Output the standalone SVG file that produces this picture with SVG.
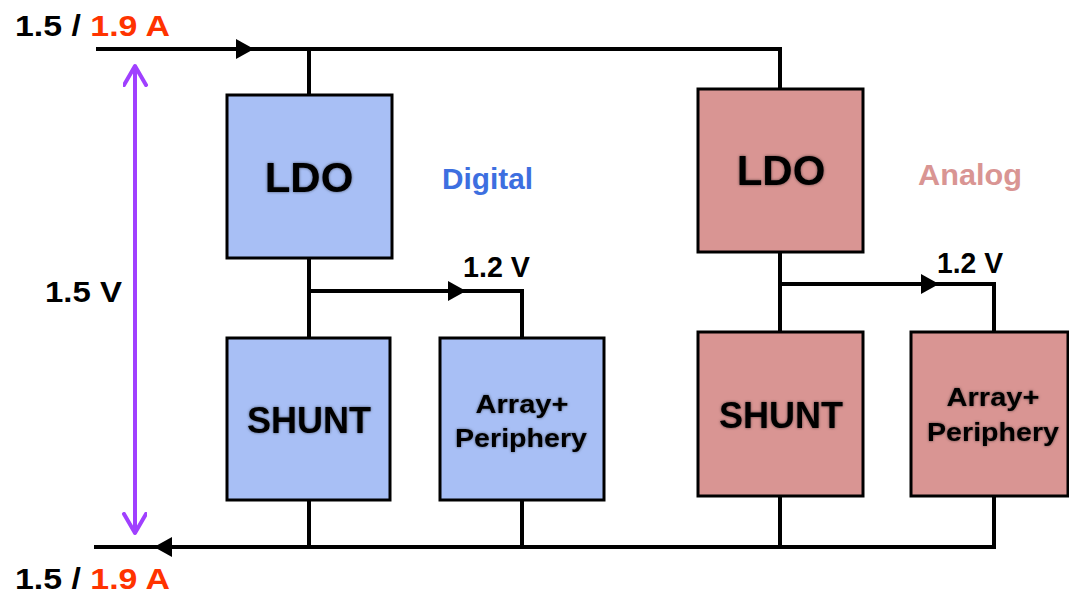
<svg xmlns="http://www.w3.org/2000/svg" width="1069" height="600" viewBox="0 0 1069 600">
<defs>
<style>
.wire{fill:none;stroke:#000;stroke-width:4}
.dig{fill:#a8bff5;stroke:#000;stroke-width:3}
.ana{fill:#d99593;stroke:#000;stroke-width:3}
.t{font-family:"Liberation Sans",Arial,sans-serif;font-weight:bold;text-anchor:middle;fill:#000}
.big{font-size:42px;filter:url(#glow)}
.med{font-size:36px;filter:url(#glow)}
.sm{font-size:26px;filter:url(#glow)}
.lbl{font-family:"Liberation Sans",Arial,sans-serif;font-weight:bold;font-size:30px}
.red{fill:#ff3300}
</style>
<filter id="glow" x="-20%" y="-40%" width="140%" height="180%">
<feDropShadow dx="0" dy="0" stdDeviation="1.5" flood-color="#000" flood-opacity="0.55"/>
</filter>
<marker id="tri" markerWidth="18" markerHeight="20" refX="17" refY="10" orient="auto" markerUnits="userSpaceOnUse">
<path d="M0,0 L18,10 L0,20 Z" fill="#000"/>
</marker>
<marker id="chev" markerWidth="30" markerHeight="30" refX="21" refY="12" orient="auto" markerUnits="userSpaceOnUse">
<path d="M2,1 L21,12 L2,23" fill="none" stroke="#a040ff" stroke-width="4" stroke-linecap="round" stroke-linejoin="round"/>
</marker>
</defs>
<rect width="1069" height="600" fill="#fff"/>

<g id="connectors">
<path class="wire" d="M96,49 L780,49 L780,89"/>
<path class="wire" d="M309,49 L309,95"/>
<path class="wire" d="M96,49 L253,49" marker-end="url(#tri)"/>
<path class="wire" d="M309,258 L309,338"/>
<path class="wire" d="M309,291 L522,291 L522,338"/>
<path class="wire" d="M309,291 L465,291" marker-end="url(#tri)"/>
<path class="wire" d="M780,252 L780,332"/>
<path class="wire" d="M780,284 L994,284 L994,332"/>
<path class="wire" d="M780,284 L938,284" marker-end="url(#tri)"/>
<path class="wire" d="M94,547 L994,547 L994,496"/>
<path class="wire" d="M309,500 L309,547"/>
<path class="wire" d="M522,500 L522,547"/>
<path class="wire" d="M780,496 L780,547"/>
<path class="wire" d="M260,547 L155,547" marker-end="url(#tri)"/>
<path d="M135,300 L135,66" fill="none" stroke="#a040ff" stroke-width="4" marker-end="url(#chev)"/>
<path d="M135,300 L135,533" fill="none" stroke="#a040ff" stroke-width="4" marker-end="url(#chev)"/>
</g>

<g id="labels">
<text class="lbl" x="15" y="36" textLength="155" lengthAdjust="spacingAndGlyphs">1.5 / <tspan class="red">1.9 A</tspan></text>
<text class="lbl" x="15" y="589" textLength="155" lengthAdjust="spacingAndGlyphs">1.5 / <tspan class="red">1.9 A</tspan></text>
<text class="lbl" x="45" y="302" textLength="77" lengthAdjust="spacingAndGlyphs">1.5 V</text>
<text class="lbl" x="442" y="189" fill="#3d6fe0" textLength="91" lengthAdjust="spacingAndGlyphs">Digital</text>
<text class="lbl" x="918" y="185" fill="#d99593" textLength="104" lengthAdjust="spacingAndGlyphs">Analog</text>
<text class="lbl" x="463" y="277" font-size="26" textLength="67" lengthAdjust="spacingAndGlyphs">1.2 V</text>
<text class="lbl" x="937" y="273" font-size="26" textLength="66" lengthAdjust="spacingAndGlyphs">1.2 V</text>
</g>

<g id="ldo-digital">
<rect class="dig" x="227" y="95" width="165" height="163"/>
<text class="t big" x="309" y="192">LDO</text>
</g>
<g id="shunt-digital">
<rect class="dig" x="227" y="338" width="163" height="162"/>
<text class="t med" x="309" y="433">SHUNT</text>
</g>
<g id="array-digital">
<rect class="dig" x="440" y="338" width="164" height="162"/>
<text class="t sm" x="522" y="413" textLength="93" lengthAdjust="spacingAndGlyphs">Array+</text>
<text class="t sm" x="521" y="447" textLength="132" lengthAdjust="spacingAndGlyphs">Periphery</text>
</g>
<g id="ldo-analog">
<rect class="ana" x="698" y="89" width="165" height="163"/>
<text class="t big" x="781" y="185">LDO</text>
</g>
<g id="shunt-analog">
<rect class="ana" x="698" y="332" width="165" height="164"/>
<text class="t med" x="781" y="428">SHUNT</text>
</g>
<g id="array-analog">
<rect class="ana" x="911" y="332" width="157" height="164"/>
<text class="t sm" x="993" y="406" textLength="93" lengthAdjust="spacingAndGlyphs">Array+</text>
<text class="t sm" x="993" y="441" textLength="132" lengthAdjust="spacingAndGlyphs">Periphery</text>
</g>
</svg>
